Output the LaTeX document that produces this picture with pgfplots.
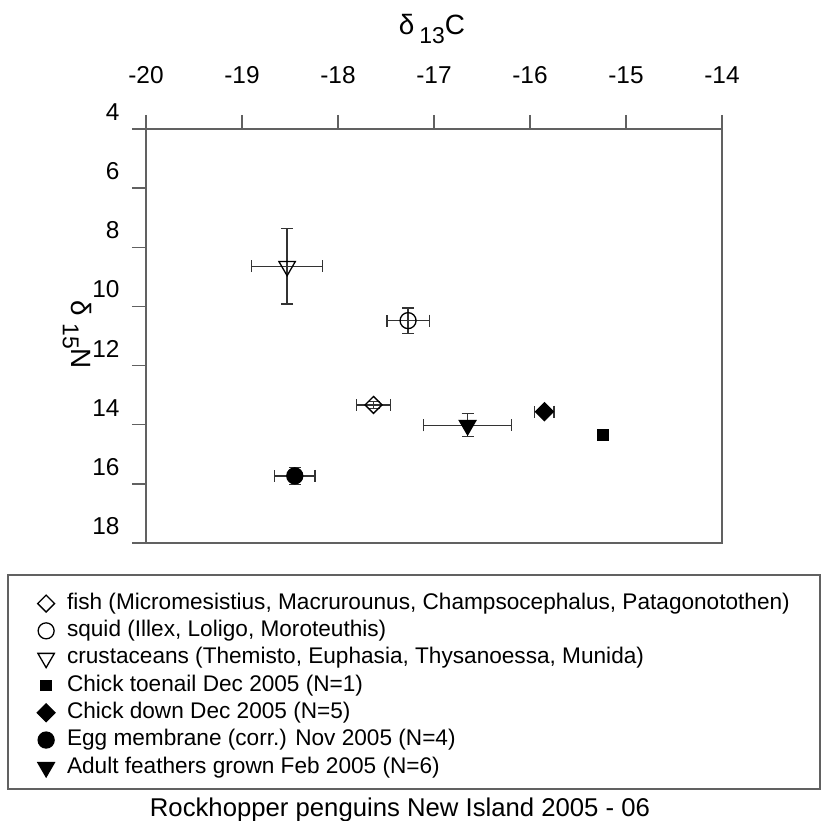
\documentclass[border=0pt]{standalone}
\usepackage{pgfplots}
\pgfplotsset{compat=1.18}
\usepackage{fontspec}
\setmainfont{Liberation Sans}

\definecolor{axisgray}{gray}{0.38}
\definecolor{bargray}{gray}{0.2}

\begin{document}
\begin{tikzpicture}
\path[use as bounding box] (-146bp,-278bp) rectangle (677bp,543bp);
\begin{axis}[
  at={(0,0)}, anchor=south west,
  scale only axis, width=576bp, height=414bp,
  xmin=-20, xmax=-14, ymin=4, ymax=18, y dir=reverse,
  xtick={-20,-19,...,-14},
  xticklabels={-20,-19,-18,-17,-16,-15,-14},
  ytick={4,6,...,18},
  yticklabels={4,6,8,10,12,14,16,18},
  xtick pos=right, xticklabel pos=right,
  ytick pos=left, yticklabel pos=left,
  tick align=outside,
  major tick length=14bp,
  axis line style={axisgray, line width=1.4bp},
  major tick style={axisgray, line width=1.3bp},
  tick label style={font=\fontsize{24.5}{26}\selectfont},
  xticklabel style={yshift=28bp},
  yticklabel style={yshift=17bp, xshift=-9bp},
  clip=false,
  legend style={draw=none, fill=none, at={(-0.1944,-0.1077)}, anchor=north west,
    font=\fontsize{22.7}{27.3}\selectfont, row sep=1.8bp, inner sep=3bp,
    nodes={inner sep=2bp, text height=16.5bp, text depth=5bp},
    /tikz/every odd column/.append style={column sep=10bp}},
  legend cell align=left,
  error bars/error bar style={line width=1.3bp, bargray, solid},
  error bars/error mark options={line width=1.3bp, mark size=6bp, rotate=90, bargray, solid},
]
% fish
\addplot[only marks, black, line width=1.3bp, mark=square, mark size=6bp,
  mark options={rotate=45, fill=white, solid},
  error bars/.cd, x dir=both, x explicit, y dir=both, y explicit]
  coordinates {(-17.63,13.33) +- (0.18,0.12)};
\addlegendentry{fish (Micromesistius, Macrurounus, Champsocephalus, Patagonotothen)}
% squid
\addplot[only marks, black, line width=1.3bp, mark=o, mark size=8bp,
  mark options={fill=white, solid},
  error bars/.cd, x dir=both, x explicit, y dir=both, y explicit]
  coordinates {(-17.27,10.48) +- (0.22,0.43)};
\addlegendentry{squid (Illex, Loligo, Moroteuthis)}
% crustaceans
\addplot[only marks, black, line width=1.3bp, mark=triangle, mark size=9.5bp,
  mark options={rotate=180, fill=white, solid},
  error bars/.cd, x dir=both, x explicit, y dir=both, y explicit]
  coordinates {(-18.53,8.64) +- (0.37,1.28)};
\addlegendentry{crustaceans (Themisto, Euphasia, Thysanoessa, Munida)}
% chick toenail
\addplot[only marks, black, line width=1.3bp, mark=square*, mark size=5bp,
  mark options={fill=black, solid}]
  coordinates {(-15.24,14.35)};
\addlegendentry{Chick toenail Dec 2005 (N=1)}
% chick down
\addplot[only marks, black, line width=1.3bp, mark=square*, mark size=6.3bp,
  mark options={rotate=45, fill=black, solid},
  error bars/.cd, x dir=both, x explicit, y dir=both, y explicit]
  coordinates {(-15.85,13.56) +- (0.10,0.10)};
\addlegendentry{Chick down Dec 2005 (N=5)}
% egg membrane
\addplot[only marks, black, line width=1.3bp, mark=*, mark size=8bp,
  mark options={fill=black, solid},
  error bars/.cd, x dir=both, x explicit, y dir=both, y explicit]
  coordinates {(-18.45,15.73) +- (0.21,0.28)};
\addlegendentry{Egg membrane (corr.) Nov 2005 (N=4)}
% adult feathers
\addplot[only marks, black, line width=1.3bp, mark=triangle*, mark size=9.5bp,
  mark options={rotate=180, fill=black, solid},
  error bars/.cd, x dir=both, x explicit, y dir=both, y explicit]
  coordinates {(-16.65,14.02) +- (0.46,0.39)};
\addlegendentry{Adult feathers grown Feb 2005 (N=6)}
\end{axis}
% axis titles
\node[anchor=base] at (286bp,508bp) {\fontsize{28}{30}\selectfont δ\hspace{5bp}\raisebox{-9bp}{\fontsize{23}{24}\selectfont 13}C};
\node[anchor=base, rotate=-90] at (-74bp,208bp) {\fontsize{28}{30}\selectfont δ\hspace{7bp}\raisebox{-9bp}{\fontsize{23}{24}\selectfont 15}N};
% legend frame
\draw[axisgray, line width=1.3bp] (-138bp,-32bp) rectangle (674bp,-246bp);
% caption
\node[anchor=base] at (254bp,-273bp) {\fontsize{25.8}{27}\selectfont Rockhopper penguins New Island 2005 - 06};
\end{tikzpicture}
\end{document}
